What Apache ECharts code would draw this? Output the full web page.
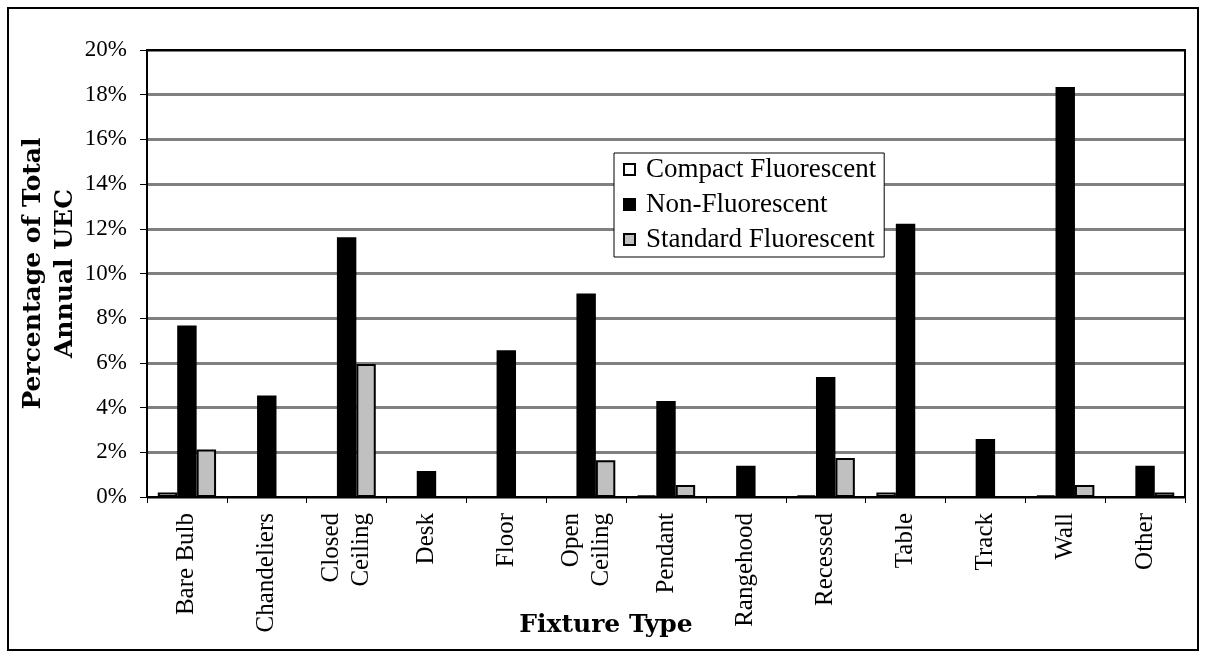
<!DOCTYPE html>
<html>
<head>
<meta charset="utf-8">
<script src="https://cdn.jsdelivr.net/npm/echarts@6/dist/echarts.min.js"></script>
<style>
html,body{margin:0;padding:0;background:#fff;}
#chart{width:1206px;height:664px;}
</style>
</head>
<body>
<div id="chart"></div>
<script>
const categories = ['Bare Bulb','Chandeliers','Closed\nCeiling','Desk','Floor','Open\nCeiling','Pendant','Rangehood','Recessed','Table','Track','Wall','Other'];
const compactFluorescent = [0.2, 0, 0, 0, 0, 0, 0.07, 0, 0.07, 0.2, 0, 0.07, 0];
const nonFluorescent = [7.67, 4.54, 11.62, 1.16, 6.57, 9.1, 4.29, 1.4, 5.37, 12.23, 2.6, 18.35, 1.4];
const standardFluorescent = [2.12, 0, 5.95, 0, 0, 1.64, 0.54, 0, 1.74, 0, 0, 0.54, 0.2];
const seriesNames = ['Compact Fluorescent','Non-Fluorescent','Standard Fluorescent'];
const yTicks = {min: 0, max: 20, interval: 2};

const serif = '"Liberation Serif", "Times New Roman", serif';
const boldSerif = '"DejaVu Serif", serif';
const chart = echarts.init(document.getElementById('chart'), null, {renderer: 'canvas'});

function barSeries(name, data, color) {
  return {
    name: name,
    type: 'bar',
    data: data,
    barGap: '0%',
    barCategoryGap: '27%',
    itemStyle: {color: color, borderColor: '#000', borderWidth: 2},
    emphasis: {disabled: true}
  };
}

chart.setOption({
  animation: false,
  backgroundColor: '#fff',
  textStyle: {fontFamily: serif, color: '#000'},
  grid: {left: 147, right: 21, top: 50, bottom: 167, containLabel: false, outerBoundsMode: 'none',
         show: true, borderColor: '#000', borderWidth: 2, backgroundColor: 'transparent', z: 5},
  legend: {
    orient: 'vertical',
    left: 614, top: 153,
    padding: [3, 8, 4, 9],
    itemGap: 8,
    itemWidth: 11, itemHeight: 11,
    icon: 'rect',
    backgroundColor: '#fff',
    borderColor: '#000', borderWidth: 1,
    borderRadius: 0,
    textStyle: {fontFamily: serif, fontSize: 27, color: '#000', padding: [0, 0, 0, 6]},
    data: seriesNames,
    z: 10
  },
  xAxis: {
    type: 'category',
    data: categories,
    name: 'Fixture Type',
    nameLocation: 'middle',
    nameGap: 116,
    nameMoveOverlap: false,
    nameTextStyle: {fontFamily: boldSerif, fontSize: 25, fontWeight: 'bold', color: '#000', padding: [0, 120, 0, 0]},
    axisLine: {lineStyle: {color: '#000', width: 2}},
    axisTick: {show: true, length: 6, lineStyle: {color: '#000', width: 1}},
    axisLabel: {rotate: 90, interval: 0, margin: 16, fontFamily: serif, fontSize: 25, lineHeight: 30, color: '#000'}
  },
  yAxis: {
    type: 'value',
    min: yTicks.min, max: yTicks.max, interval: yTicks.interval,
    name: 'Percentage of Total\nAnnual UEC',
    nameLocation: 'middle',
    nameRotate: 90,
    nameGap: 66,
    nameMoveOverlap: false,
    nameTextStyle: {fontFamily: boldSerif, fontSize: 25, fontWeight: 'bold', color: '#000', lineHeight: 32, align: 'center'},
    axisLine: {show: true, lineStyle: {color: '#000', width: 2}},
    axisTick: {show: true, length: 7, lineStyle: {color: '#000', width: 1}},
    axisLabel: {formatter: '{value}%', margin: 20, fontFamily: serif, fontSize: 23, color: '#000'},
    splitLine: {show: true, lineStyle: {color: '#808080', width: 3}}
  },
  graphic: [{
    type: 'rect',
    shape: {x: 8, y: 8, width: 1190, height: 642},
    style: {fill: 'none', stroke: '#000', lineWidth: 2},
    silent: true,
    z: 100
  }],
  series: [
    barSeries(seriesNames[0], compactFluorescent, '#ffffff'),
    barSeries(seriesNames[1], nonFluorescent, '#000000'),
    barSeries(seriesNames[2], standardFluorescent, '#c0c0c0')
  ]
});
</script>
</body>
</html>
